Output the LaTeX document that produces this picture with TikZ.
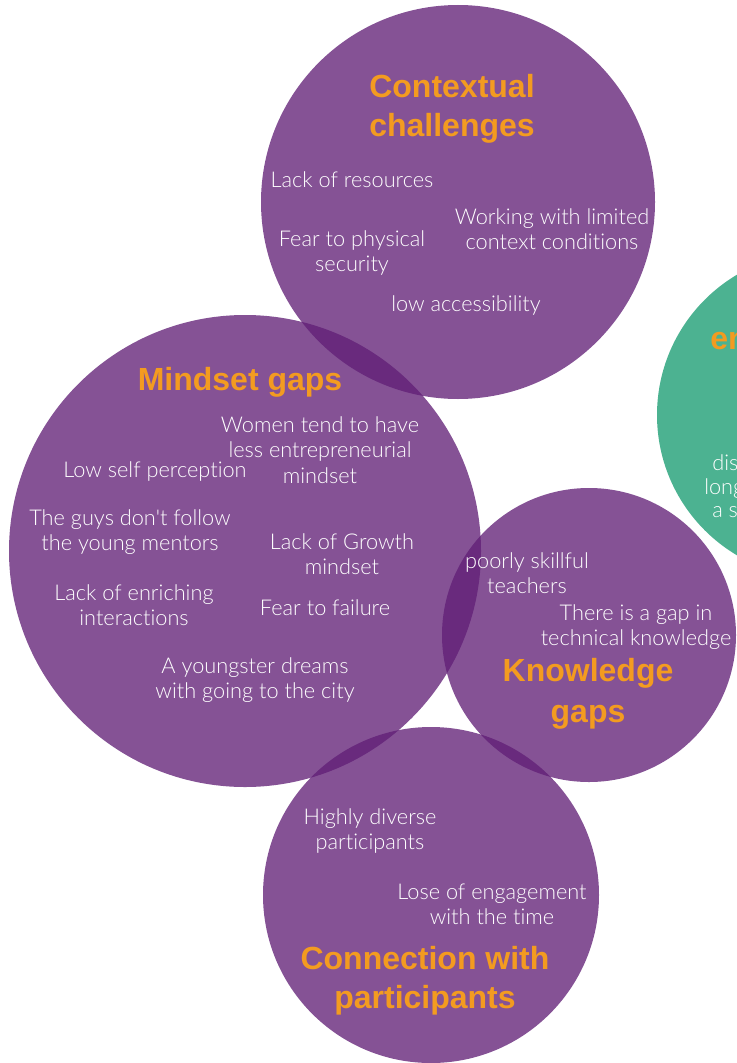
\documentclass[tikz,border=0pt]{standalone}
\usepackage{fontspec}
\setmainfont{Liberation Sans}
\newfontfamily\itemfont[Ligatures=NoCommon]{Lato Light}
\definecolor{bubblepurple}{RGB}{96,30,117}
\definecolor{bubblegreen}{RGB}{76,178,145}
\definecolor{headorange}{RGB}{243,155,32}

\begin{document}
\begin{tikzpicture}[x=0.75pt,y=-0.75pt,
  bubble/.style={circle,inner sep=0pt,fill=bubblepurple,fill opacity=0.77},
  heading/.style={text=headorange,font=\bfseries\fontsize{24}{29}\selectfont,align=center},
  point/.style={text=white,font=\itemfont\fontsize{16.3}{18.9}\selectfont,align=center}]
\useasboundingbox (0,0) rectangle (737,1063);
\clip (0,0) rectangle (737,1063);

% the circles
\node[bubble,fill=bubblegreen,fill opacity=1,minimum size=244.5pt] (ent) at (820,415) {};
\node[bubble,minimum size=295.5pt] (ctx) at (458,202) {};
\node[bubble,minimum size=354pt] (mind) at (245,551) {};
\node[bubble,minimum size=220.5pt] (know) at (589,635) {};
\node[bubble,minimum size=252pt] (conn) at (431,895) {};

% contextual challenges
\node[heading] (ctxT) at (452,109) {Contextual\\challenges};
\node[point] (ctx1) at (352,180) {Lack of resources};
\node[point] (ctx2) at (552,229) {Working with limited\\context conditions};
\node[point] (ctx3) at (352,253) {Fear to physical\\security};
\node[point] (ctx4) at (466,306) {low accessibility};

% mindset gaps
\node[heading] (mindT) at (240,382) {Mindset gaps};
\node[point] (mind1) at (320,450) {Women tend to have\\less entrepreneurial\\mindset};
\node[point] (mind2) at (155,472) {Low self perception};
\node[point] (mind3) at (130,532) {The guys don't follow\\the young mentors};
\node[point] (mind4) at (342,554) {Lack of Growth\\mindset};
\node[point] (mind5) at (134,605) {Lack of enriching\\interactions};
\node[point] (mind6) at (325,608) {Fear to failure};
\node[point] (mind7) at (255,680) {A youngster dreams\\with going to the city};

% knowledge gaps
\node[heading,font=\bfseries\fontsize{24}{31}\selectfont] (knowT) at (588,694) {Knowledge\\gaps};
\node[point] (know1) at (527,573) {poorly skillful\\teachers};
\node[point] (know2) at (636,627) {There is a gap in\\technical knowledge};

% connection with participants
\node[heading] (connT) at (425,981) {Connection with\\participants};
\node[point] (conn1) at (370,831) {Highly diverse\\participants};
\node[point] (conn2) at (492,904) {Lose of engagement\\with the time};

% green circle, cut at the edge
\node[heading,anchor=west,inner sep=0pt] (entT) at (710,341) {en};
\node[point,anchor=west,inner sep=0pt] (ent1) at (712,463) {dis};
\node[point,anchor=west,inner sep=0pt] (ent2) at (704,489) {long};
\node[point,anchor=west,inner sep=0pt] (ent3) at (712,512) {a s};
\end{tikzpicture}
\end{document}
